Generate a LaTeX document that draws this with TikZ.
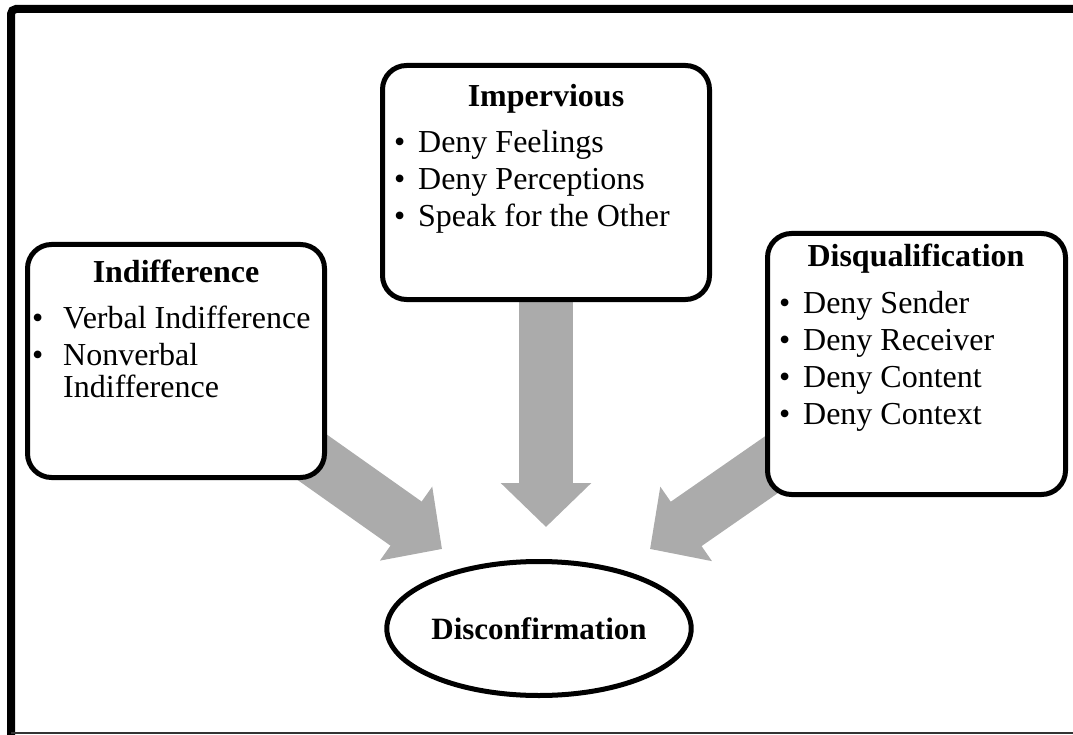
\documentclass[tikz,border=0pt]{standalone}
\usepackage{fontspec}
\setmainfont{Liberation Serif}
\usetikzlibrary{arrows.meta,shapes.geometric,backgrounds}

\definecolor{arrowgray}{HTML}{ABABAB}
\newcommand{\itm}[2][24pt]{\makebox[#1][l]{\textbullet}#2}

\begin{document}
\begin{tikzpicture}[x=1pt,y=-1pt,
    catbox/.style={draw, line width=5pt, rounded corners=24pt, fill=white, inner sep=0pt},
    cattitle/.style={font=\fontsize{32}{37}\selectfont\bfseries, anchor=base, inner sep=0pt},
    catitem/.style={font=\fontsize{32}{37}\selectfont, anchor=base west, inner sep=0pt, align=left},
    bigarrow/.style={line width=54pt, arrowgray, -{Triangle[length=44pt,width=88pt]}}]
    \useasboundingbox (0,0) rectangle (1073,735);
    % outer frame
    \draw[line width=8pt, rounded corners=5pt] (1090,9) -- (11,9) -- (11,750);
    \draw[line width=2pt, black!80] (11,733) -- (1090,733);

    % the three kinds
    \node[catbox, minimum width=327pt, minimum height=234pt] (imp) at (546,182.5) {};
    \node[catbox, minimum width=297pt, minimum height=233pt] (ind) at (176,361) {};
    \node[catbox, minimum width=298pt, minimum height=261pt] (dis) at (916.5,364) {};
    \node[draw, ellipse, line width=5pt, fill=white, inner sep=0pt,
      minimum width=303pt, minimum height=134pt,
      font=\fontsize{31}{37}\selectfont\bfseries] (conf) at (539,628.5) {Disconfirmation};

    % titles, lists (base = last line)
    \node[cattitle] (imp-t) at (546,107) {Impervious};
    \node[catitem] (imp-l) at (394,227) {\itm{Deny Feelings}\\\itm{Deny Perceptions}\\\itm{Speak for the Other}};

    \node[cattitle] (ind-t) at (176,283) {Indifference};
    \node[catitem] (ind-l) at (32,397) {\itm[31pt]{Verbal Indifference}\\\itm[31pt]{Nonverbal}\\[-5pt]\hspace*{31pt}Indifference};

    \node[cattitle] (dis-t) at (916,266) {Disqualification};
    \node[catitem] (dis-l) at (779,424) {\itm{Deny Sender}\\\itm{Deny Receiver}\\\itm{Deny Content}\\\itm{Deny Context}};

    % arrow tips
    \coordinate (tip-m) at (546,527);
    \coordinate (tip-l) at (442,549);
    \coordinate (tip-r) at (650,549);

    \begin{scope}[on background layer]
      \draw[bigarrow] (imp.center) -- (tip-m);
      \draw[bigarrow] (ind.center) -- (tip-l);
      \draw[bigarrow] (dis.center) -- (tip-r);
    \end{scope}
\end{tikzpicture}
\end{document}
